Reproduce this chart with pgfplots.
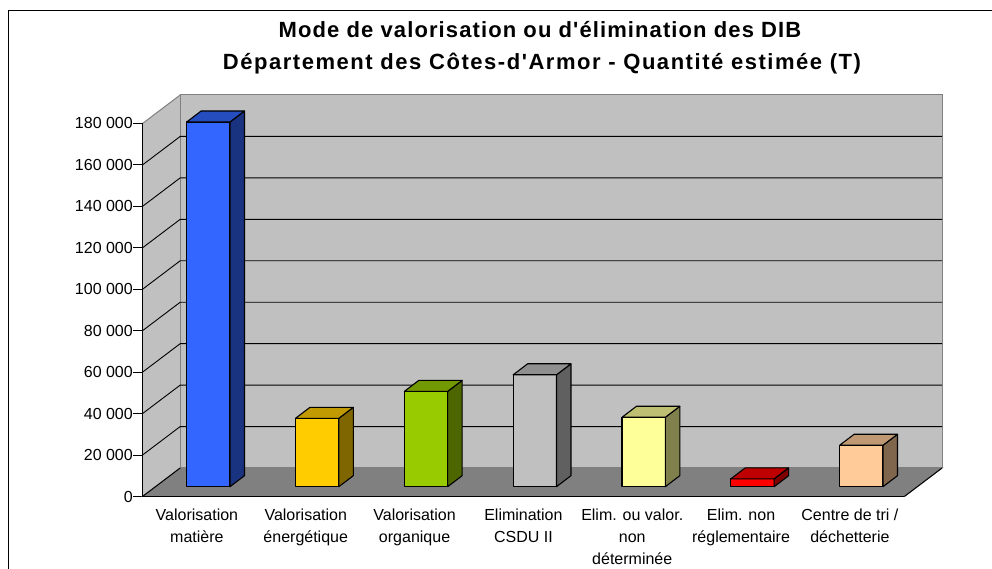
\documentclass[border=0pt]{standalone}
\usepackage{pgfplots}
\pgfplotsset{compat=1.18}
\usepackage{pgfplotstable}
\usepackage{fontspec}
\setmainfont{Liberation Sans}[Ligatures=TeXOff]

\definecolor{f0}{HTML}{3366FF}\definecolor{t0}{HTML}{264DBF}\definecolor{s0}{HTML}{1A3380}
\definecolor{f1}{HTML}{FFCC00}\definecolor{t1}{HTML}{C09A00}\definecolor{s1}{HTML}{806600}
\definecolor{f2}{HTML}{99CC00}\definecolor{t2}{HTML}{739900}\definecolor{s2}{HTML}{4D6600}
\definecolor{f3}{HTML}{C0C0C0}\definecolor{t3}{HTML}{909090}\definecolor{s3}{HTML}{606060}
\definecolor{f4}{HTML}{FFFF99}\definecolor{t4}{HTML}{BFBF73}\definecolor{s4}{HTML}{80804D}
\definecolor{f5}{HTML}{FF0000}\definecolor{t5}{HTML}{BF0000}\definecolor{s5}{HTML}{800000}
\definecolor{f6}{HTML}{FFCC99}\definecolor{t6}{HTML}{BF9973}\definecolor{s6}{HTML}{80664D}
\definecolor{wall}{HTML}{C0C0C0}
\definecolor{floorc}{HTML}{808080}
\definecolor{edge}{HTML}{808080}

% Quantité estimée (T) par mode
\pgfplotstableread{
idx value
0 176000
1 33000
2 46000
3 54000
4 33500
5 3800
6 20000
}\datatable

\begin{document}
\begin{tikzpicture}[x=1pt,y=1pt]
\begin{axis}[
  at={(142.5pt,72.5pt)}, anchor=south west,
  scale only axis, width=799.9pt, height=401.5pt,
  xmin=0, xmax=7.35, ymin=0, ymax=193753,
  clip=false,
  axis line style={draw=none},
  tick align=outside,
  xtick pos=left, ytick pos=left,
  xtick={0.5,1.5,2.5,3.5,4.5,5.5,6.5},
  xticklabels={{Valorisation\\matière},{Valorisation\\énergétique},{Valorisation\\organique},{Elimination\\CSDU II},{Elim. ou valor.\\non\\déterminée},{Elim. non\\réglementaire},{Centre de tri /\\déchetterie}},
  xtick style={draw=none},
  minor xtick={0,1,2,3,4,5,6,7},
  minor x tick style={black, line width=1pt},
  minor tick length=6pt,
  ytick={0,20000,40000,60000,80000,100000,120000,140000,160000,180000},
  yticklabels={0,20 000,40 000,60 000,80 000,100 000,120 000,140 000,160 000,180 000},
  scaled y ticks=false,
  ytick style={black, line width=1pt},
  major tick length=9pt,
  yticklabel style={font=\fontsize{16}{19}\selectfont, inner xsep=0.5pt},
  xticklabel style={font=\fontsize{16}{22.3}\selectfont, align=center, yshift=-1pt, inner ysep=2pt},
]
% left side wall
\addplot[fill=wall, draw=none] coordinates {(0,0)(0.3464,13753)(0.3464,193753)(0,180000)} --cycle;
% back wall
\addplot[fill=wall, draw=edge, line width=1pt] coordinates {(0.3464,13753)(7.3464,13753)(7.3464,193753)(0.3464,193753)} --cycle;
\addplot[edge, line width=1pt] coordinates {(0,180000)(0.3464,193753)};
% gridlines
\pgfplotsinvokeforeach{20000,40000,60000,80000,100000,120000,140000,160000}{
  \pgfkeys{/pgf/fpu=true,/pgf/fpu/output format=fixed}
  \pgfmathsetmacro\gy{#1+13753}
  \pgfkeys{/pgf/fpu=false}
  \addplot[black, line width=0.9pt] coordinates {(0,#1)(0.3464,\gy)(7.3464,\gy)};
}
% floor
\addplot[fill=floorc, draw=edge, line width=1pt] coordinates {(0,0)(7,0)(7.3464,13753)(0.3464,13753)} --cycle;
\addplot[black, line width=1pt] coordinates {(0,0)(0.3464,13753)};
\addplot[black, line width=1pt] coordinates {(7,0)(7.3464,13753)};
% bars
\pgfplotsinvokeforeach{0,...,6}{
  \pgfplotstablegetelem{#1}{value}\of\datatable
  \pgfkeys{/pgf/fpu=true,/pgf/fpu/output format=fixed}
  \pgfmathsetmacro\xa{#1+0.406}
  \pgfmathsetmacro\xb{#1+0.804}
  \pgfmathsetmacro\xc{#1+0.937}
  \pgfmathsetmacro\xd{#1+0.539}
  \pgfmathsetmacro\yb{4729+\pgfplotsretval}
  \pgfmathsetmacro\yc{4729+5308+\pgfplotsretval}
  \pgfkeys{/pgf/fpu=false}
  \addplot[draw=black, line width=1.1pt, line join=round, fill=f#1] coordinates {(\xa,4729)(\xb,4729)(\xb,\yb)(\xa,\yb)} --cycle;
  \addplot[draw=black, line width=1.1pt, line join=round, fill=s#1] coordinates {(\xb,4729)(\xc,10037)(\xc,\yc)(\xb,\yb)} --cycle;
  \addplot[draw=black, line width=1.1pt, line join=round, fill=t#1] coordinates {(\xa,\yb)(\xb,\yb)(\xc,\yc)(\xd,\yc)} --cycle;
}
% front axis lines
\addplot[black, line width=1pt] coordinates {(0,180000)(0,0)(7,0)};
\end{axis}
\node[font=\fontsize{22}{26}\selectfont\bfseries\addfontfeature{LetterSpace=5}, anchor=base] at (540pt,531pt) {Mode de valorisation ou d'élimination des DIB};
\node[font=\fontsize{22}{26}\selectfont\bfseries\addfontfeature{LetterSpace=7}, anchor=base] at (542pt,499pt) {Département des Côtes-d'Armor - Quantité estimée (T)};
\draw[line width=1.6pt, black] (8.5pt,-20pt) -- (8.5pt,558.3pt) -- (1010pt,558.3pt);
\pgfresetboundingbox
\path[use as bounding box] (0,0) rectangle (992pt,569pt);
\end{tikzpicture}
\end{document}
